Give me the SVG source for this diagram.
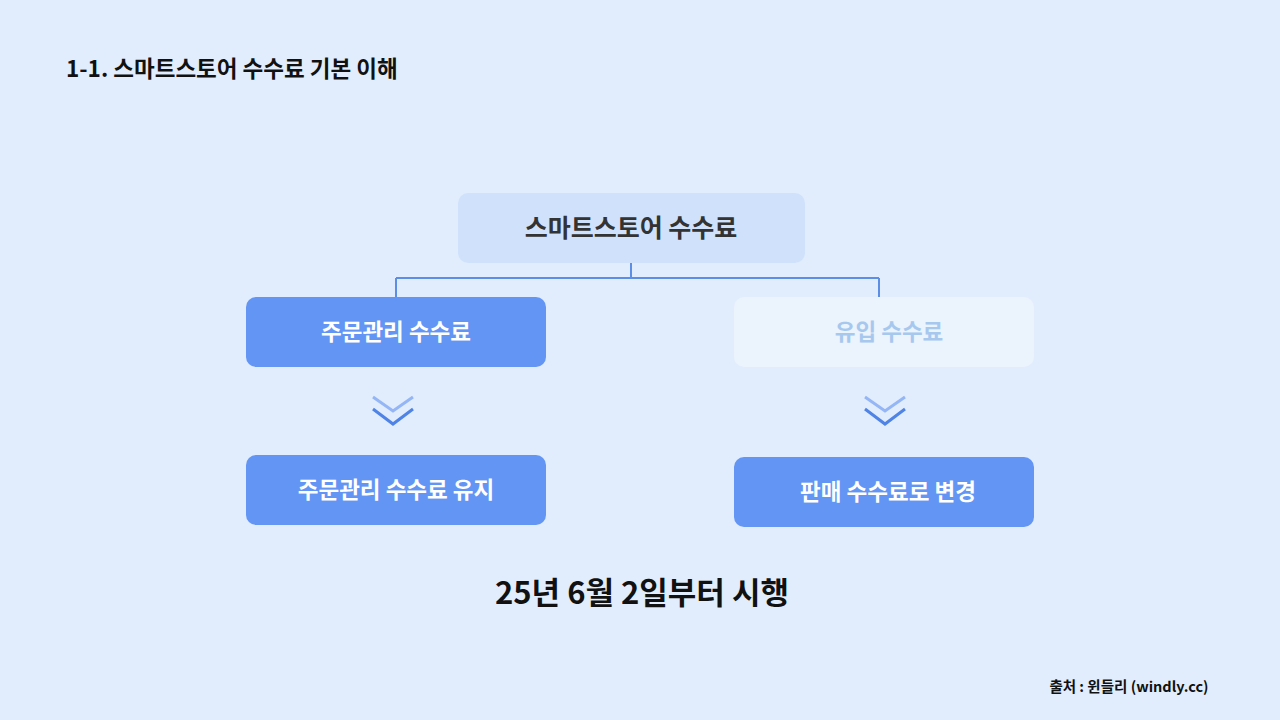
<svg xmlns="http://www.w3.org/2000/svg" width="1280" height="720" viewBox="0 0 1280 720">
<style>
text{font-family:"Noto Sans CJK KR","Noto Sans",sans-serif;font-weight:700;text-anchor:middle}
.box{fill:#6395f5}
.w{fill:#fff;font-size:22.5px}
.c1{fill:none;stroke:#94b6f6;stroke-width:3}
.c2{fill:none;stroke:#4f83e6;stroke-width:3}
</style>
<rect width="1280" height="720" fill="#e1edfc"/>
<text x="66" y="77" style="text-anchor:start;font-size:22.5px" fill="#111">1-1. 스마트스토어 수수료 기본 이해</text>
<g id="connectors">
<path d="M631 263V278M396 278H879M396 278V297M879 278V297" fill="none" stroke="#5b8ee6" stroke-width="2"/>
<path class="c1" d="M373 397L393 411L413 397"/><path class="c2" d="M373 409L393 424L413 409"/>
<path class="c1" d="M865 397L885 411L905 397"/><path class="c2" d="M865 409L885 424L905 409"/>
</g>
<g id="root"><rect x="458" y="193" width="347" height="70" rx="10" fill="#d0e2fb"/><text x="631" y="237" font-size="25" fill="#333">스마트스토어 수수료</text></g>
<g id="order"><rect class="box" x="246" y="297" width="300" height="70" rx="10"/><text class="w" x="396" y="340">주문관리 수수료</text></g>
<g id="inflow"><rect x="734" y="297" width="300" height="70" rx="10" fill="#ebf3fd"/><text x="889" y="340" font-size="22.5" fill="#a7c8ee">유입 수수료</text></g>
<g id="keep"><rect class="box" x="246" y="455" width="300" height="70" rx="10"/><text class="w" x="396" y="498">주문관리 수수료 유지</text></g>
<g id="change"><rect class="box" x="734" y="457" width="300" height="70" rx="10"/><text class="w" x="888" y="500">판매 수수료로 변경</text></g>
<text x="642" y="604" font-size="31" fill="#111">25년 6월 2일부터 시행</text>
<text x="1129" y="692" font-size="14.5" fill="#111">출처 : 윈들리 (windly.cc)</text>
</svg>
